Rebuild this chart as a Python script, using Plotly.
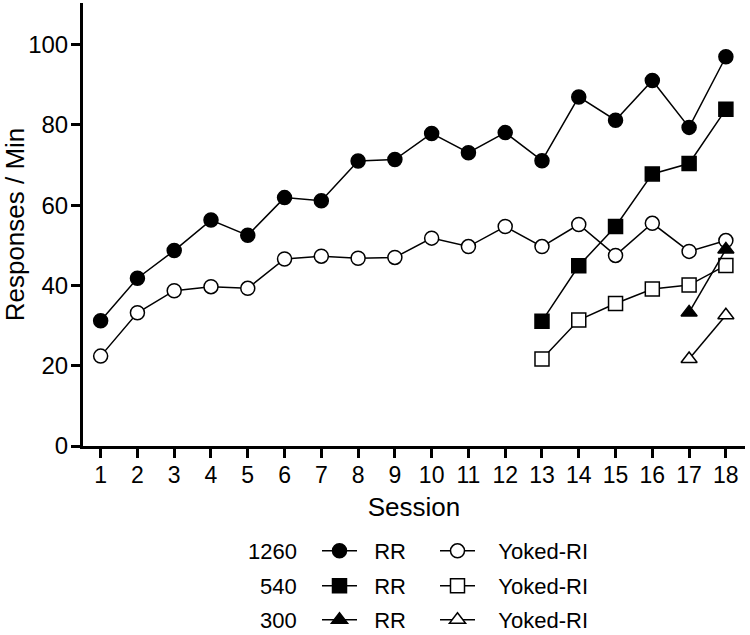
import plotly.graph_objects as go

sessions = list(range(1, 19))
sessions_540 = list(range(13, 19))
sessions_300 = [17, 18]

rr_1260 = [31.2, 41.8, 48.7, 56.3, 52.5, 61.9, 61.1, 71.0, 71.4,
           77.9, 73.1, 78.1, 71.1, 87.0, 81.2, 91.1, 79.4, 97.0]
yoked_1260 = [22.4, 33.2, 38.7, 39.7, 39.3, 46.6, 47.3, 46.8, 47.0,
              51.8, 49.7, 54.7, 49.7, 55.2, 47.5, 55.5, 48.5, 51.2]
rr_540 = [31.1, 44.9, 54.7, 67.8, 70.4, 83.9]
yoked_540 = [21.7, 31.4, 35.5, 39.1, 40.1, 45.0]
rr_300 = [33.3, 49.0]
yoked_300 = [21.7, 32.6]

groups = ["1260", "540", "300"]
FONT = "Liberation Sans, Arial, sans-serif"

# (x, y, name, symbol, fill, legend row, legend column)
series = [
    (sessions, rr_1260, "RR", "circle", "black", 0, 0),
    (sessions, yoked_1260, "Yoked-RI", "circle", "white", 0, 1),
    (sessions_540, rr_540, "RR", "square", "black", 1, 0),
    (sessions_540, yoked_540, "Yoked-RI", "square", "white", 1, 1),
    (sessions_300, rr_300, "RR", "triangle-up", "black", 2, 0),
    (sessions_300, yoked_300, "Yoked-RI", "triangle-up", "white", 2, 1),
]

# pixel layout of the plot area and the legend grid below it
plot_l, plot_w, plot_b, plot_h = 83, 662, 446, 443
row_y = [551, 586, 620]
col_x = [317, 435]

def px_x(p):
    return (p - plot_l) / plot_w

def px_y(p):
    return (plot_b - p) / plot_h

fig = go.Figure()
legends = {}
for i, (x, y, name, sym, fill, row, col) in enumerate(series):
    key = "legend" if i == 0 else f"legend{i + 1}"
    pad = "\u00a0\u00a0" if col == 0 else "\u00a0\u00a0\u00a0"
    fig.add_trace(go.Scatter(
        x=x, y=y, name=pad + name, mode="lines+markers",
        line=dict(color="black", width=1.5),
        marker=dict(symbol=sym, size=14, color=fill,
                    line=dict(color="black", width=1.5)),
        legend=key, showlegend=True,
    ))
    legends[key] = dict(
        x=px_x(col_x[col]), y=px_y(row_y[row]),
        xanchor="left", yanchor="middle",
        font=dict(family=FONT, size=22, color="black"),
        itemwidth=35, bgcolor="rgba(0,0,0,0)", borderwidth=0,
    )

annotations = [
    dict(text=g, xref="paper", yref="paper",
         x=px_x(299), y=px_y(ry),
         xanchor="right", yanchor="middle", showarrow=False,
         font=dict(family=FONT, size=22, color="black"))
    for g, ry in zip(groups, row_y)
]

fig.update_layout(
    width=750, height=635, showlegend=True,
    plot_bgcolor="white", paper_bgcolor="white",
    margin=dict(l=83, r=5, t=3, b=189, autoexpand=False),
    font=dict(family=FONT, color="black"),
    annotations=annotations,
    **legends,
)
fig.update_xaxes(
    range=[0.52, 18.52], tickvals=sessions, automargin=False,
    showline=True, linewidth=3, linecolor="black",
    ticks="outside", ticklen=9, tickwidth=2.5, tickcolor="black",
    showgrid=False, zeroline=False,
    tickfont=dict(family=FONT, size=23), ticklabelstandoff=-3,
    title=dict(text="Session", font=dict(family=FONT, size=26), standoff=12),
)
fig.update_yaxes(
    range=[0, 110.4], tickvals=[0, 20, 40, 60, 80, 100], automargin=False,
    showline=True, linewidth=3, linecolor="black",
    ticks="outside", ticklen=9, tickwidth=2.5, tickcolor="black",
    showgrid=False, zeroline=False,
    tickfont=dict(family=FONT, size=24), ticklabelstandoff=-2,
    title=dict(text="Responses / Min", font=dict(family=FONT, size=26), standoff=7),
)

fig.write_html("out.html", config={"displayModeBar": False},
               post_script="document.body.style.margin = '0px';")
